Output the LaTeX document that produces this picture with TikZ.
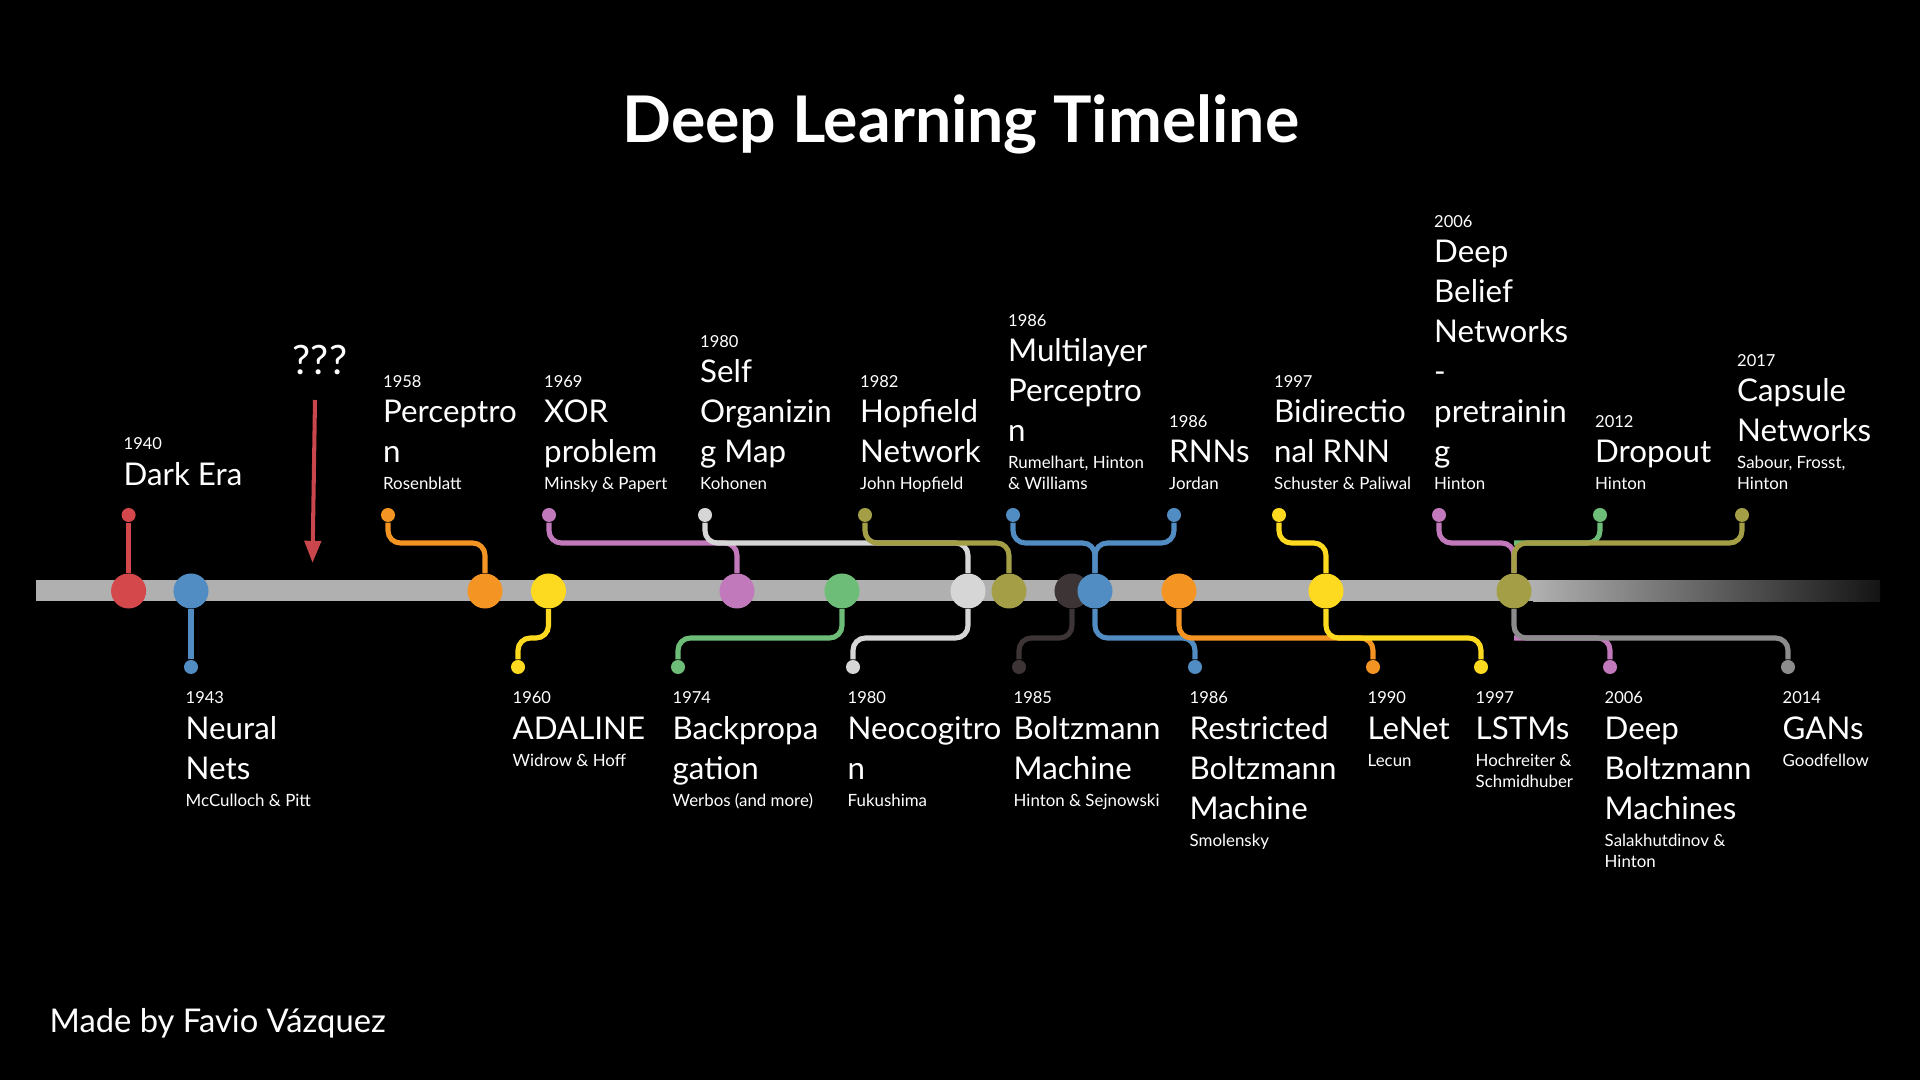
\documentclass[tikz,border=0pt]{standalone}
\usepackage{fontspec}
\setmainfont{Lato}
\usepackage{tikz}
\usetikzlibrary{arrows.meta}
\definecolor{dlred}{HTML}{D4474A}
\definecolor{dlblue}{HTML}{518CC2}
\definecolor{dlorange}{HTML}{F49523}
\definecolor{dlyellow}{HTML}{FDD91F}
\definecolor{dlpink}{HTML}{C279BC}
\definecolor{dlgreen}{HTML}{6DBD78}
\definecolor{dllight}{HTML}{D6D6D6}
\definecolor{dlolive}{HTML}{A49F47}
\definecolor{dldark}{HTML}{3D3535}
\definecolor{dlgray}{HTML}{8C8C8C}
\definecolor{dlbar}{HTML}{B0B0B0}
\definecolor{dlarrow}{HTML}{C9474C}
\newcommand{\yrfont}{\fontsize{4.7}{5.6}\selectfont}
\newcommand{\ttlfont}{\fontsize{8.9}{11.38}\selectfont}
\newcommand{\aufont}{\fontsize{4.8}{6.12}\selectfont}
\tikzset{
  bigdot/.style={circle, inner sep=0pt, minimum size=3.5mm},
  tipdot/.style={circle, inner sep=0pt, minimum size=1.4mm},
  tlink/.style={line width=1.45pt, rounded corners=3.5pt},
  yrlabel/.style={anchor=base west, inner sep=0pt, text=white, font=\yrfont},
  ttllabel/.style={anchor=base west, inner sep=0pt, text=white, align=left, font=\ttlfont},
  aulabel/.style={anchor=base west, inner sep=0pt, text=white, align=left, font=\aufont},
  qarrow/.style={-{Triangle[width=4.6pt, length=6.3pt]}, line width=1.15pt, draw=dlarrow}
}
\begin{document}
\begin{tikzpicture}[x=0.01cm, y=-0.01cm]
  \useasboundingbox (0,0) rectangle (1920,1080);
  \fill[black] (0,0) rectangle (1920,1080);

  \node[anchor=base, inner sep=0pt, text=white, font=\fontsize{18.3}{22}\selectfont\bfseries] (title) at (961,143) {Deep Learning Timeline};
  \node[anchor=base west, inner sep=0pt, text=white, font=\fontsize{9.3}{11}\selectfont] (credit) at (49,1033) {Made by Favio Vázquez};

  % the time line
  \fill[dlbar] (36,580.5) rectangle (1533,601.5);
  \shade[left color=dlbar, right color=black!92] (1533,580.5) rectangle (1880,601.5);
  \coordinate (upper) at (0,543);
  \coordinate (lower) at (0,638);

  \node[anchor=base, inner sep=0pt, text=white, font=\fontsize{11.5}{14}\selectfont] (unknown) at (320,375) {???};
  \coordinate (qtop) at (315,400);
  \coordinate (qtip) at (312.5,563);
  \draw[qarrow] (qtop) -- (qtip);

  \node[bigdot, fill=dlred] (era) at (128.6,591) {};
  \node[bigdot, fill=dlblue] (nets) at (191,591) {};
  \node[bigdot, fill=dlorange] (perc) at (485,591) {};
  \node[bigdot, fill=dlyellow] (ada) at (548.5,591) {};
  \node[bigdot, fill=dlpink] (xor) at (737,591) {};
  \node[bigdot, fill=dlgreen] (backprop) at (842,591) {};
  \node[bigdot, fill=dllight] (som) at (968,591) {};
  \node[bigdot, fill=dlolive] (hop) at (1009,591) {};
  \node[bigdot, fill=dldark] (boltz) at (1072,591) {};
  \node[bigdot, fill=dlblue] (mlp) at (1095,591) {};
  \node[bigdot, fill=dlorange] (lenet) at (1179,591) {};
  \node[bigdot, fill=dlyellow] (birnn) at (1326,591) {};
  \node[bigdot, fill=dlolive] (dbn) at (1514,591) {};

  \node[tipdot, fill=dlred] (eraT) at (128.6,515) {};
  \node[tipdot, fill=dlorange] (percT) at (388,515) {};
  \node[tipdot, fill=dlpink] (xorT) at (549,515) {};
  \node[tipdot, fill=dllight] (somT) at (705,515) {};
  \node[tipdot, fill=dlolive] (hopT) at (865,515) {};
  \node[tipdot, fill=dlblue] (mlpT) at (1013,515) {};
  \node[tipdot, fill=dlblue] (rnnT) at (1174,515) {};
  \node[tipdot, fill=dlyellow] (birnnT) at (1279,515) {};
  \node[tipdot, fill=dlpink] (dbnT) at (1439,515) {};
  \node[tipdot, fill=dlgreen] (dropT) at (1600,515) {};
  \node[tipdot, fill=dlolive] (capsT) at (1742,515) {};

  \node[tipdot, fill=dlblue] (netsB) at (191,667) {};
  \node[tipdot, fill=dlyellow] (adaB) at (518,667) {};
  \node[tipdot, fill=dlgreen] (backB) at (678,667) {};
  \node[tipdot, fill=dllight] (neoB) at (853,667) {};
  \node[tipdot, fill=dldark] (boltzB) at (1019,667) {};
  \node[tipdot, fill=dlblue] (rbmB) at (1195,667) {};
  \node[tipdot, fill=dlorange] (lenetB) at (1373,667) {};
  \node[tipdot, fill=dlyellow] (lstmB) at (1481,667) {};
  \node[tipdot, fill=dlpink] (dbmB) at (1610,667) {};
  \node[tipdot, fill=dlgray] (ganB) at (1788,667) {};

  \draw[tlink, dlred] (eraT) -- (era);
  \draw[tlink, dlorange] (percT) -- (percT |- upper) -- (perc |- upper) -- (perc);
  \draw[tlink, dlpink] (xorT) -- (xorT |- upper) -- (xor |- upper) -- (xor);
  \draw[tlink, dllight] (somT) -- (somT |- upper) -- (som |- upper) -- (som);
  \draw[tlink, dlolive] (hopT) -- (hopT |- upper) -- (hop |- upper) -- (hop);
  \draw[tlink, dlblue] (mlpT) -- (mlpT |- upper) -- (mlp |- upper) -- (mlp);
  \draw[tlink, dlblue] (rnnT) -- (rnnT |- upper) -- (mlp |- upper) -- (mlp);
  \draw[tlink, dlyellow] (birnnT) -- (birnnT |- upper) -- (birnn |- upper) -- (birnn);
  \draw[tlink, dlpink] (dbnT) -- (dbnT |- upper) -- (dbn |- upper) -- (dbn);
  \draw[tlink, dlgreen] (dropT) -- (dropT |- upper) -- (dbn |- upper);
  \draw[tlink, dlolive] (capsT) -- (capsT |- upper) -- (dbn |- upper) -- (dbn);

  \draw[tlink, dlblue] (nets) -- (netsB);
  \draw[tlink, dlyellow] (ada) -- (ada |- lower) -- (adaB |- lower) -- (adaB);
  \draw[tlink, dlgreen] (backprop) -- (backprop |- lower) -- (backB |- lower) -- (backB);
  \draw[tlink, dllight] (som) -- (som |- lower) -- (neoB |- lower) -- (neoB);
  \draw[tlink, dldark] (boltz) -- (boltz |- lower) -- (boltzB |- lower) -- (boltzB);
  \draw[tlink, dlblue] (mlp) -- (mlp |- lower) -- (rbmB |- lower) -- (rbmB);
  \draw[tlink, dlorange] (lenet) -- (lenet |- lower) -- (lenetB |- lower) -- (lenetB);
  \draw[tlink, dlyellow] (birnn) -- (birnn |- lower) -- (lstmB |- lower) -- (lstmB);
  \draw[tlink, dlpink] (dbn |- lower) -- (dbmB |- lower) -- (dbmB);
  \draw[tlink, dlgray] (dbn) -- (dbn |- lower) -- (ganB |- lower) -- (ganB);

  \node[yrlabel] (yEra) at (123,450) {1940};
  \node[ttllabel] (tEra) at (123,486) {Dark Era};
  \node[yrlabel] (yPerc) at (382.5,388) {1958};
  \node[ttllabel] (tPerc) at (382.5,463) {Perceptro\\n};
  \node[aulabel] (aPerc) at (382.5,490) {Rosenblatt};
  \node[yrlabel] (yXor) at (543.5,388) {1969};
  \node[ttllabel] (tXor) at (543.5,463) {XOR\\problem};
  \node[aulabel] (aXor) at (543.5,490) {Minsky \& Papert};
  \node[yrlabel] (ySom) at (699.5,348) {1980};
  \node[ttllabel] (tSom) at (699.5,463) {Self\\Organizin\\g Map};
  \node[aulabel] (aSom) at (699.5,490) {Kohonen};
  \node[yrlabel] (yHop) at (859.5,388) {1982};
  \node[ttllabel] (tHop) at (859.5,463) {Hopfield\\Network};
  \node[aulabel] (aHop) at (859.5,490) {John Hopfield};
  \node[yrlabel] (yMlp) at (1007.5,326.5) {1986};
  \node[ttllabel] (tMlp) at (1007.5,441.5) {Multilayer\\Perceptro\\n};
  \node[aulabel] (aMlp) at (1007.5,490) {Rumelhart, Hinton\\\& Williams};
  \node[yrlabel] (yRnn) at (1168.5,428) {1986};
  \node[ttllabel] (tRnn) at (1168.5,463) {RNNs};
  \node[aulabel] (aRnn) at (1168.5,490) {Jordan};
  \node[yrlabel] (yBirnn) at (1273.5,388) {1997};
  \node[ttllabel] (tBirnn) at (1273.5,463) {Bidirectio\\nal RNN};
  \node[aulabel] (aBirnn) at (1273.5,490) {Schuster \& Paliwal};
  \node[yrlabel] (yDbn) at (1433.5,228) {2006};
  \node[ttllabel] (tDbn) at (1433.5,463) {Deep\\Belief\\Networks\\-\\pretrainin\\g};
  \node[aulabel] (aDbn) at (1433.5,490) {Hinton};
  \node[yrlabel] (yDrop) at (1594.5,428) {2012};
  \node[ttllabel] (tDrop) at (1594.5,463) {Dropout};
  \node[aulabel] (aDrop) at (1594.5,490) {Hinton};
  \node[yrlabel] (yCaps) at (1736.5,366.5) {2017};
  \node[ttllabel] (tCaps) at (1736.5,441.5) {Capsule\\Networks};
  \node[aulabel] (aCaps) at (1736.5,490) {Sabour, Frosst,\\Hinton};

  \node[yrlabel] (yNets) at (185,704) {1943};
  \node[ttllabel] (tNets) at (185,780) {Neural\\Nets};
  \node[aulabel] (aNets) at (185,806.5) {McCulloch \& Pitt};
  \node[yrlabel] (yAda) at (512,704) {1960};
  \node[ttllabel] (tAda) at (512,740) {ADALINE};
  \node[aulabel] (aAda) at (512,766.5) {Widrow \& Hoff};
  \node[yrlabel] (yBack) at (672,704) {1974};
  \node[ttllabel] (tBack) at (672,780) {Backpropa\\gation};
  \node[aulabel] (aBack) at (672,806.5) {Werbos (and more)};
  \node[yrlabel] (yNeo) at (847,704) {1980};
  \node[ttllabel] (tNeo) at (847,780) {Neocogitro\\n};
  \node[aulabel] (aNeo) at (847,806.5) {Fukushima};
  \node[yrlabel] (yBoltz) at (1013,704) {1985};
  \node[ttllabel] (tBoltz) at (1013,780) {Boltzmann\\Machine};
  \node[aulabel] (aBoltz) at (1013,806.5) {Hinton \& Sejnowski};
  \node[yrlabel] (yRbm) at (1189,704) {1986};
  \node[ttllabel] (tRbm) at (1189,820) {Restricted\\Boltzmann\\Machine};
  \node[aulabel] (aRbm) at (1189,846.5) {Smolensky};
  \node[yrlabel] (yLenet) at (1367,704) {1990};
  \node[ttllabel] (tLenet) at (1367,740) {LeNet};
  \node[aulabel] (aLenet) at (1367,766.5) {Lecun};
  \node[yrlabel] (yLstm) at (1475,704) {1997};
  \node[ttllabel] (tLstm) at (1475,740) {LSTMs};
  \node[aulabel] (aLstm) at (1475,788) {Hochreiter \&\\Schmidhuber};
  \node[yrlabel] (yDbm) at (1604,704) {2006};
  \node[ttllabel] (tDbm) at (1604,820) {Deep\\Boltzmann\\Machines};
  \node[aulabel] (aDbm) at (1604,868) {Salakhutdinov \&\\Hinton};
  \node[yrlabel] (yGan) at (1782,704) {2014};
  \node[ttllabel] (tGan) at (1782,740) {GANs};
  \node[aulabel] (aGan) at (1782,766.5) {Goodfellow};
\end{tikzpicture}
\end{document}
